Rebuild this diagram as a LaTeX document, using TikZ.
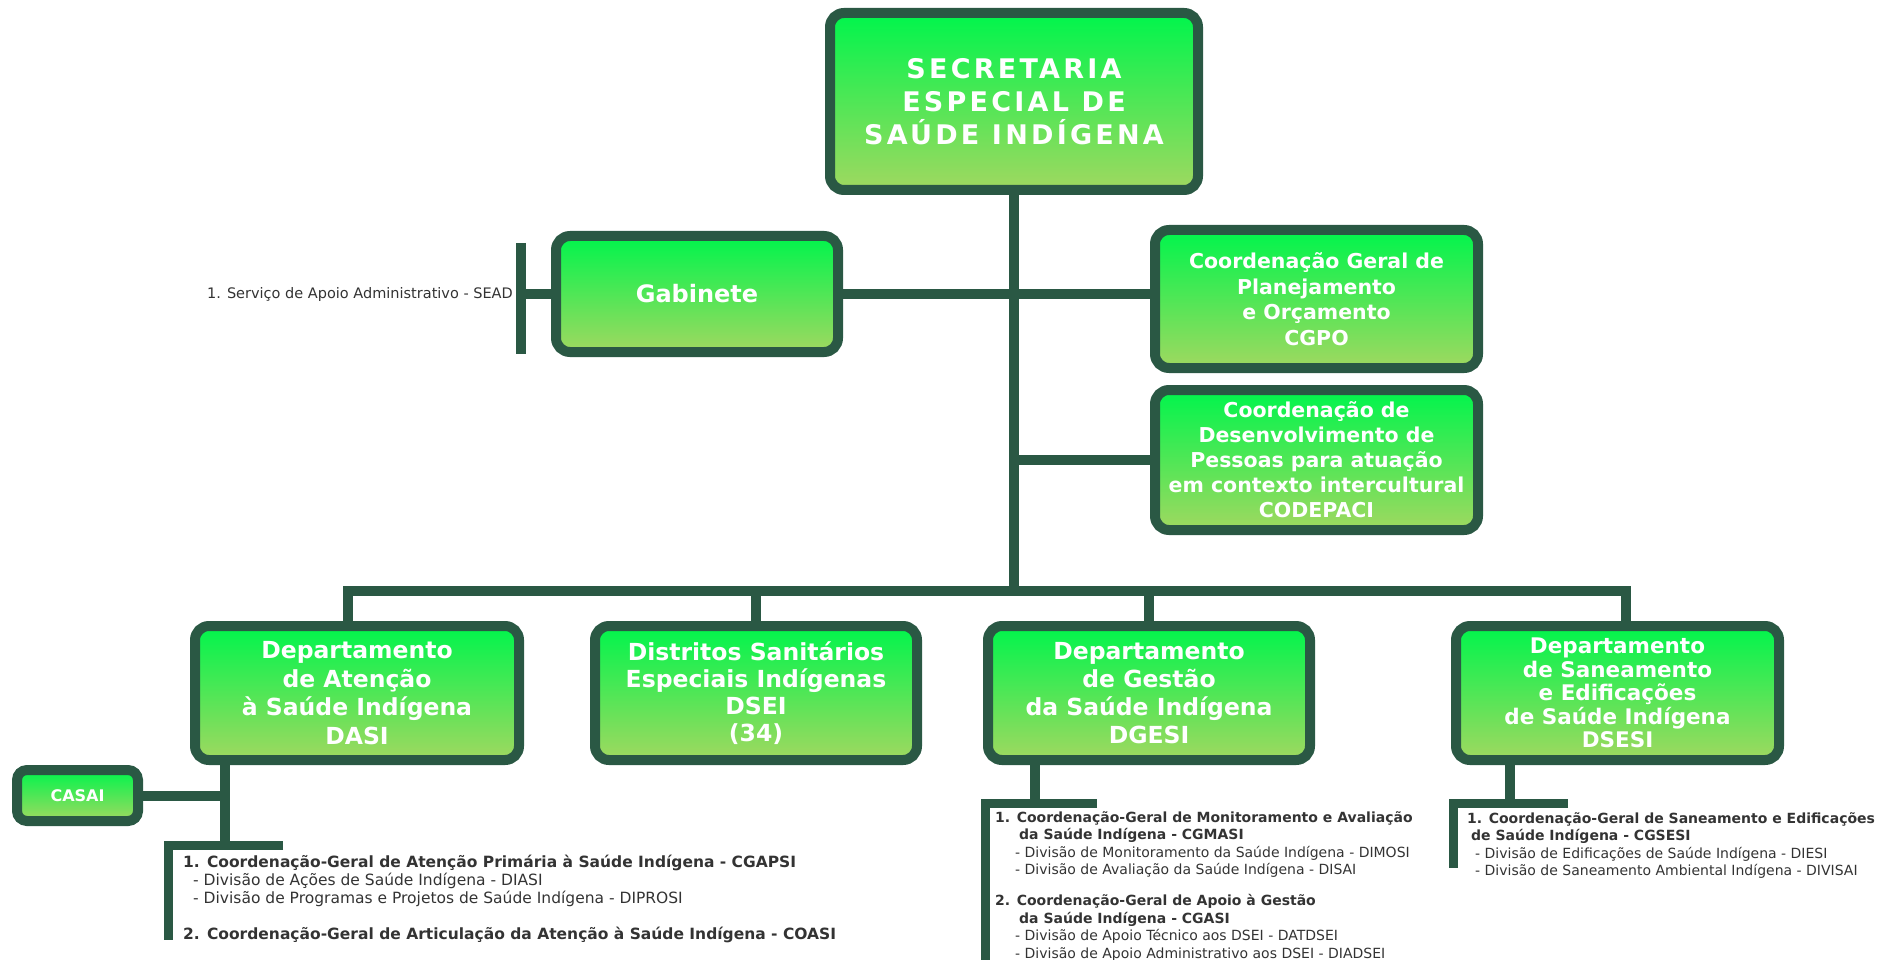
\documentclass[tikz,border=0pt]{standalone}
\usepackage{fontspec}
\setmainfont{DejaVu Sans}
\usetikzlibrary{calc}
\usetikzlibrary{shadows}
\definecolor{borda}{RGB}{42,88,68}
\definecolor{verdeA}{RGB}{0,245,76}
\definecolor{verdeB}{RGB}{160,216,96}
\definecolor{texto}{RGB}{51,51,51}

\begin{document}
\begin{tikzpicture}[x=1pt,y=-1pt,
		caixa/.style={draw=borda,line width=10pt,rounded corners=14pt,top color=verdeA,bottom color=verdeB,
			text=white,align=center,inner sep=0pt,
			drop shadow={opacity=0.25,shadow xshift=3pt,shadow yshift=-4pt}},
		linha/.style={draw=borda,line width=10pt},
		chave/.style={draw=borda,line width=9pt},
		lista/.style={text=texto,align=left,anchor=north west,inner sep=0pt,font=\fontsize{14}{17.5}\selectfont}]
	\useasboundingbox (0,0) rectangle (1880,960);
	%caixas
	\node[caixa,minimum width=368pt,minimum height=177pt,font=\fontsize{27}{33}\selectfont\bfseries\addfontfeature{LetterSpace=12}] (sesai) at (1014,101.5) {SECRETARIA\\ESPECIAL DE\\SAÚDE INDÍGENA};
	\node[caixa,minimum width=282pt,minimum height=116pt,font=\fontsize{24}{30}\selectfont\bfseries] (gab) at (697,294) {Gabinete};
	\node[caixa,minimum width=323pt,minimum height=138pt,font=\fontsize{20.5}{25.5}\selectfont\bfseries] (cgpo) at (1316.5,299) {Coordenação Geral de\\Planejamento\\e Orçamento\\CGPO};
	\node[caixa,minimum width=323pt,minimum height=140pt,font=\fontsize{20.5}{25}\selectfont\bfseries] (codepaci) at (1316.5,460) {Coordenação de\\Desenvolvimento de\\Pessoas para atuação\\em contexto intercultural\\CODEPACI};
	\node[caixa,minimum width=324pt,minimum height=134pt,font=\fontsize{23.5}{28.5}\selectfont\bfseries] (dasi) at (357,693) {Departamento\\de Atenção\\à Saúde Indígena\\DASI};
	\node[caixa,minimum width=322pt,minimum height=134pt,font=\fontsize{23.5}{27}\selectfont\bfseries] (dsei) at (756,693) {Distritos Sanitários\\Especiais Indígenas\\DSEI\\(34)};
	\node[caixa,minimum width=322pt,minimum height=134pt,font=\fontsize{23.5}{28}\selectfont\bfseries] (dgesi) at (1149,693) {Departamento\\de Gestão\\da Saúde Indígena\\DGESI};
	\node[caixa,minimum width=323pt,minimum height=134pt,font=\fontsize{21.5}{23.5}\selectfont\bfseries] (dsesi) at (1617.5,693) {Departamento\\de Saneamento\\e Edificações\\de Saúde Indígena\\DSESI};
	\node[caixa,minimum width=121pt,minimum height=51pt,rounded corners=10pt,font=\fontsize{16}{20}\selectfont\bfseries] (casai) at (77.5,795.5) {CASAI};
	%ligações
	\coordinate (barra) at (0,591);
	\draw[linha] (sesai.south) -- (sesai.south |- barra);
	\draw[linha] (gab.east) -- (gab.east -| cgpo.west);
	\draw[linha] (codepaci.west) -- (codepaci.west -| sesai.south);
	\draw[linha] ([xshift=-9pt]dasi.north) -- ([xshift=-9pt]dasi.north |- barra) -- ([xshift=8pt]dsesi.north |- barra) -- ([xshift=8pt]dsesi.north);
	\draw[linha] (dsei.north) -- (dsei.north |- barra);
	\draw[linha] (dgesi.north) -- (dgesi.north |- barra);
	%gabinete
	\coordinate (seadA) at (521,243);
	\coordinate (seadB) at (521,354);
	\draw[linha] (seadA) -- (seadB);
	\draw[linha] (gab.west) -- (gab.west -| seadA);
	\node[anchor=east,inner sep=0pt,text=texto,font=\fontsize{14.5}{17}\selectfont] (sead) at (513,294) {1. Serviço de Apoio Administrativo - SEAD};
	%DASI
	\coordinate (dasiC) at (225,845);
	\coordinate (dasiD) at (283,845);
	\coordinate (dasiE) at (168,940);
	\draw[linha] (dasi.south -| dasiC) -- (dasiC);
	\draw[linha] (casai.east) -- (casai.east -| dasiC);
	\draw[chave] (dasiD) -| (dasiE);
	\node[lista,font=\fontsize{15.5}{18}\selectfont] (listadasi) at (183,855) {\textbf{1. Coordenação-Geral de Atenção Primária à Saúde Indígena - CGAPSI}\\
		\hspace*{10pt}- Divisão de Ações de Saúde Indígena - DIASI\\
		\hspace*{10pt}- Divisão de Programas e Projetos de Saúde Indígena - DIPROSI\\[18pt]
		\textbf{2. Coordenação-Geral de Articulação da Atenção à Saúde Indígena - COASI}};
	%DGESI
	\coordinate (dgesiC) at (1035,803);
	\coordinate (dgesiD) at (1097,803);
	\coordinate (dgesiE) at (985,960);
	\draw[linha] (dgesi.south -| dgesiC) -- (dgesiC);
	\draw[chave] (dgesiD) -| (dgesiE);
	\node[lista] (listadgesi) at (995,811) {\textbf{1. Coordenação-Geral de Monitoramento e Avaliação}\\
		\hspace*{24pt}\textbf{da Saúde Indígena - CGMASI}\\
		\hspace*{20pt}- Divisão de Monitoramento da Saúde Indígena - DIMOSI\\
		\hspace*{20pt}- Divisão de Avaliação da Saúde Indígena - DISAI\\[13.5pt]
		\textbf{2. Coordenação-Geral de Apoio à Gestão}\\
		\hspace*{24pt}\textbf{da Saúde Indígena - CGASI}\\
		\hspace*{20pt}- Divisão de Apoio Técnico aos DSEI - DATDSEI\\
		\hspace*{20pt}- Divisão de Apoio Administrativo aos DSEI - DIADSEI};
	%DSESI
	\coordinate (dsesiC) at (1510,803);
	\coordinate (dsesiD) at (1568,803);
	\coordinate (dsesiE) at (1453,868);
	\draw[linha] (dsesi.south -| dsesiC) -- (dsesiC);
	\draw[chave] (dsesiD) -| (dsesiE);
	\node[lista] (listadsesi) at (1467,812) {\textbf{1. Coordenação-Geral de Saneamento e Edificações}\\
		\hspace*{4pt}\textbf{de Saúde Indígena - CGSESI}\\
		\hspace*{8pt}- Divisão de Edificações de Saúde Indígena - DIESI\\
		\hspace*{8pt}- Divisão de Saneamento Ambiental Indígena - DIVISAI};
\end{tikzpicture}
\end{document}
